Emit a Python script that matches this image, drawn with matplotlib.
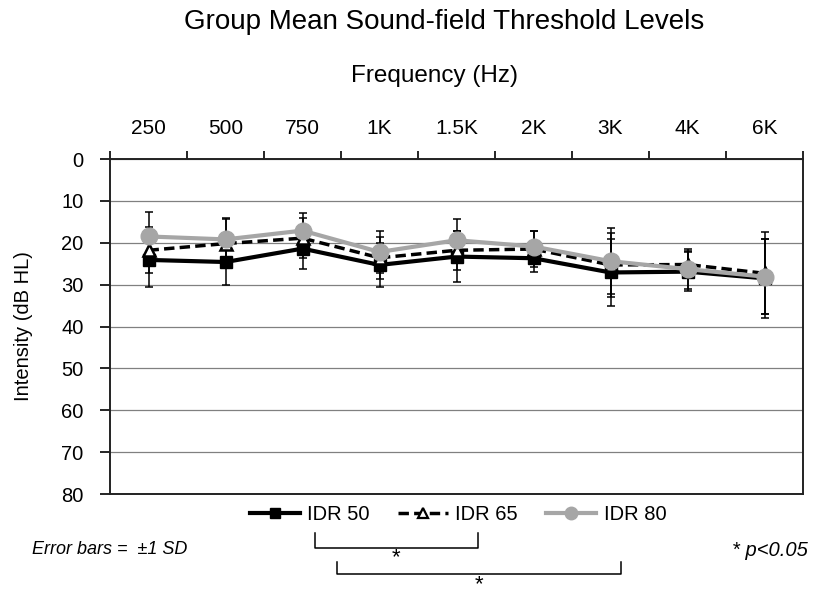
import numpy as np
import matplotlib
matplotlib.use("Agg")
import matplotlib.pyplot as plt
from matplotlib.lines import Line2D

plt.rcParams['font.family'] = ['Liberation Sans', 'DejaVu Sans']

freqs = ['250', '500', '750', '1K', '1.5K', '2K', '3K', '4K', '6K']

idr50 = [24.1, 24.6, 21.4, 25.3, 23.3, 23.7, 27.1, 26.9, 28.5]
idr50_sd = [6.4, 5.6, 4.9, 5.2, 6.0, 3.4, 7.9, 4.6, 9.5]
idr65 = [21.8, 20.2, 18.9, 23.6, 21.8, 21.5, 25.3, 25.2, 27.3]
idr65_sd = [5.5, 5.9, 4.8, 5.0, 4.6, 4.2, 7.7, 3.3, 9.8]
idr80 = [18.5, 19.2, 17.1, 22.2, 19.4, 20.9, 24.4, 26.3, 28.1]
idr80_sd = [5.9, 5.0, 4.3, 5.0, 5.0, 3.6, 7.9, 4.8, 9.0]

grey = '#a6a6a6'
dash = (0, (3, 1.5))

fig = plt.figure(figsize=(8.13, 5.99), dpi=100)
ax = fig.add_axes([110/813, 1-494/599, 693/813, 335/599])

x = np.arange(len(freqs)) + 0.5

# error bars first, then the lines on top
for m, sd in [(idr50, idr50_sd), (idr65, idr65_sd), (idr80, idr80_sd)]:
    ax.errorbar(x, m, yerr=sd, fmt='none', ecolor='black', elinewidth=1.1,
                capsize=3.2, capthick=1.1, zorder=2)

ax.plot(x, idr50, color='black', lw=3, marker='s', ms=9, zorder=3)
ax.plot(x, idr65, color='black', lw=2.5, ls=dash, marker='^', ms=9,
        mfc='white', mec='black', mew=1.8, zorder=4)
ax.plot(x, idr80, color=grey, lw=3, marker='o', ms=12, zorder=5)

ax.set_xlim(0, len(freqs))
ax.set_ylim(80, 0)
ax.set_yticks(np.arange(0, 81, 10))
ax.yaxis.grid(True, color='#808080', lw=0.9)
ax.set_axisbelow(True)

ax.xaxis.tick_top()
ax.set_xticks(x)
ax.set_xticklabels(freqs, fontsize=15)
ax.set_xticks(np.arange(0, len(freqs) + 1), minor=True)
ax.tick_params(axis='x', which='major', length=0, pad=15)
ax.tick_params(axis='x', which='minor', length=6, width=1.2, direction='out')
ax.tick_params(axis='y', length=7, width=1.2, labelsize=14.5, pad=12)

for s in ax.spines.values():
    s.set_linewidth(1.4)
    s.set_color('#222222')

ax.set_ylabel('Intensity (dB HL)', fontsize=14.5)
ax.yaxis.set_label_coords((33 - 110) / 693, 0.5)

fig.text(444/813, 1-22/599, 'Group Mean Sound-field Threshold Levels',
         ha='center', va='center', fontsize=20)
fig.text(434/813, 1-76/599, 'Frequency (Hz)', ha='center', va='center', fontsize=17.5)

# legend with smaller markers than in the plot
handles = [
    Line2D([], [], color='black', lw=3, marker='s', ms=7),
    Line2D([], [], color='black', lw=2.5, ls=dash, marker='^', ms=7,
           mfc='white', mec='black', mew=1.6),
    Line2D([], [], color=grey, lw=3, marker='o', ms=9),
]
labels = ['IDR 50', 'IDR 65', 'IDR 80']
fig.legend(handles, labels, loc='center', bbox_to_anchor=(458/813, 1-515/599),
           ncol=3, frameon=False, fontsize=14.5, handlelength=2.5,
           columnspacing=1.4, handletextpad=0.35, borderpad=0)

# significance brackets
def bracket(x0, x1, ytop, ybot, star_y):
    fx = lambda v: v / 813
    fy = lambda v: 1 - v / 599
    fig.add_artist(Line2D([fx(x0), fx(x0), fx(x1), fx(x1)],
                          [fy(ytop), fy(ybot), fy(ybot), fy(ytop)],
                          color='black', lw=1.1))
    fig.text(fx((x0 + x1) / 2), fy(star_y), '*', ha='center', va='center', fontsize=16)

bracket(315, 478, 533, 548, 558)
bracket(337, 621, 562, 574, 585)

fig.text(32/813, 1-549/599, 'Error bars =  \u00b11 SD', ha='left', va='center',
         fontsize=13, style='italic')
fig.text(808/813, 1-551/599, '* p<0.05', ha='right', va='center',
         fontsize=14.5, style='italic')

fig.savefig('out.png', dpi=100)
